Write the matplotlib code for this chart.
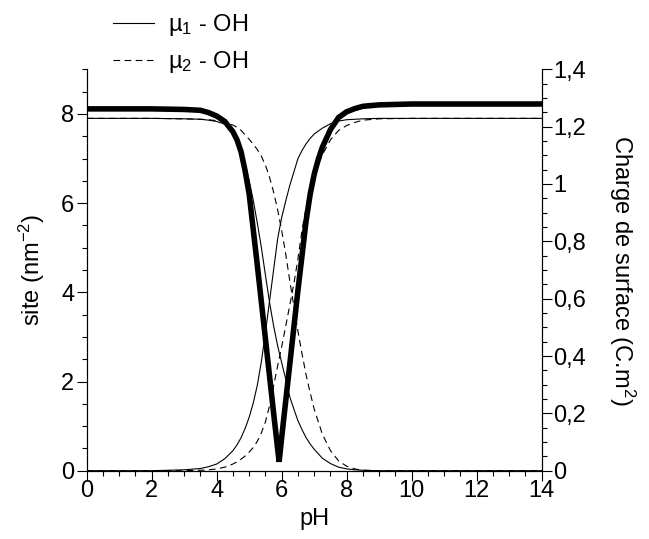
import matplotlib
matplotlib.use("Agg")
import matplotlib.pyplot as plt
from matplotlib.ticker import MultipleLocator, FixedLocator, FixedFormatter

plt.rcParams['font.family'] = ['Liberation Sans', 'DejaVu Sans']
plt.rcParams['mathtext.fontset'] = 'custom'
plt.rcParams['mathtext.rm'] = 'Liberation Sans'
plt.rcParams['mathtext.it'] = 'Liberation Sans'

# ---- data ----
ph = [0, 2, 3, 3.5, 3.75, 4, 4.25, 4.5, 4.625, 4.75, 4.875, 5, 5.125, 5.25, 5.375,
      5.5, 5.625, 5.75, 5.875, 6, 6.125, 6.25, 6.375, 6.5, 6.625, 6.75, 6.875, 7,
      7.25, 7.5, 7.75, 8, 8.25, 8.5, 9, 10, 14]

# mu1-OH species (thin solid), site density nm^-2
mu1_a = [7.9, 7.9, 7.89, 7.88, 7.86, 7.83, 7.77, 7.6, 7.42, 7.18, 6.88, 6.5, 6.06,
         5.55, 5.0, 4.38, 3.78, 3.25, 2.8, 2.42, 2.05, 1.65, 1.38, 1.12, 0.92, 0.74,
         0.6, 0.48, 0.28, 0.16, 0.08, 0.04, 0.02, 0.01, 0, 0, 0]
mu1_b = [0, 0, 0.02, 0.05, 0.09, 0.15, 0.27, 0.45, 0.58, 0.74, 0.95, 1.2, 1.52,
         1.92, 2.45, 3.1, 3.8, 4.5, 5.2, 5.68, 6.05, 6.4, 6.7, 7.0, 7.18, 7.33,
         7.45, 7.55, 7.68, 7.78, 7.84, 7.87, 7.88, 7.89, 7.9, 7.9, 7.9]

# mu2-OH species (thin dashed)
mu2_a = [7.9, 7.9, 7.89, 7.88, 7.87, 7.85, 7.81, 7.75, 7.7, 7.63, 7.53, 7.43, 7.32,
         7.2, 7.05, 6.85, 6.58, 6.25, 5.85, 5.38, 4.85, 4.25, 3.68, 3.12, 2.62, 2.15,
         1.75, 1.38, 0.82, 0.45, 0.22, 0.1, 0.04, 0.01, 0, 0, 0]
mu2_b = [0, 0, 0, 0.01, 0.02, 0.04, 0.08, 0.15, 0.2, 0.26, 0.33, 0.42, 0.52, 0.66,
         0.85, 1.1, 1.45, 1.9, 2.35, 2.78, 3.25, 3.72, 4.2, 4.75, 5.4, 5.9, 6.3,
         6.62, 7.08, 7.42, 7.63, 7.74, 7.81, 7.86, 7.89, 7.9, 7.9]

# surface charge (thick), C.m^2
ph_q = [0, 2, 3, 3.5, 3.75, 4, 4.25, 4.5, 4.625, 4.75, 4.875, 5, 5.25, 5.5, 5.75,
        5.92, 6, 6.25, 6.5, 6.75, 6.875, 7, 7.125, 7.25, 7.5, 7.75, 8, 8.25, 8.5,
        9, 10, 14]
charge = [1.262, 1.262, 1.26, 1.257, 1.249, 1.237, 1.218, 1.182, 1.154, 1.112,
          1.045, 0.964, 0.716, 0.459, 0.202, 0.031, 0.117, 0.373, 0.63, 0.871,
          0.964, 1.034, 1.086, 1.128, 1.19, 1.232, 1.252, 1.263, 1.271, 1.276,
          1.279, 1.279]

x_ticks = [0, 2, 4, 6, 8, 10, 12, 14]
y_ticks = [0, 2, 4, 6, 8]
y2_ticks = [0, 0.2, 0.4, 0.6, 0.8, 1.0, 1.2, 1.4]
y2_labels = ['0', '0,2', '0,4', '0,6', '0,8', '1', '1,2', '1,4']

FS = 17

fig = plt.figure(figsize=(6.49, 5.39), dpi=100)
ax = fig.add_axes([0.1336, 0.1267, 0.8347 - 0.1336, 0.8714 - 0.1267])
ax2 = ax.twinx()

l1, = ax.plot(ph, mu1_a, color='black', lw=0.8, label=r'µ$_1$ - OH')
ax.plot(ph, mu1_b, color='black', lw=0.8)
l2, = ax.plot(ph, mu2_a, color='black', lw=0.8, ls=(0, (6, 4)), label=r'µ$_2$ - OH')
ax.plot(ph, mu2_b, color='black', lw=0.8, ls=(0, (6, 4)))
ax2.plot(ph_q, charge, color='black', lw=4.0, solid_joinstyle='miter')

ax.set_xlim(0, 14)
ax.set_ylim(0, 9)
ax2.set_ylim(0, 1.4)

ax.xaxis.set_major_locator(FixedLocator(x_ticks))
ax.xaxis.set_minor_locator(MultipleLocator(0.5))
ax.yaxis.set_major_locator(FixedLocator(y_ticks))
ax.yaxis.set_minor_locator(MultipleLocator(0.5))
ax2.yaxis.set_major_locator(FixedLocator(y2_ticks))
ax2.yaxis.set_major_formatter(FixedFormatter(y2_labels))
ax2.yaxis.set_minor_locator(MultipleLocator(0.05))

for a in (ax, ax2):
    a.spines['top'].set_visible(False)
    for s in a.spines.values():
        s.set_linewidth(0.8)
    a.tick_params(which='major', direction='out', length=7, width=0.8, labelsize=FS)
    a.tick_params(which='minor', direction='out', length=3.5, width=0.8)
ax.tick_params(axis='x', pad=0)
ax.tick_params(axis='y', pad=2)
ax2.tick_params(axis='y', pad=1)

ax.set_xlabel('pH', fontsize=FS, labelpad=4)
ax.set_ylabel(r'site (nm$^{-2}$)', fontsize=FS, labelpad=10)
ax2.set_ylabel(r'Charge de surface (C.m$^2$)', fontsize=FS, rotation=270, labelpad=37)

fig.legend(handles=[l1, l2], loc='upper left', bbox_to_anchor=(0.159, 0.995),
           frameon=False, fontsize=FS, handlelength=1.75, handletextpad=0.6,
           labelspacing=0.45, borderaxespad=0)

fig.savefig('out.png', dpi=100)
